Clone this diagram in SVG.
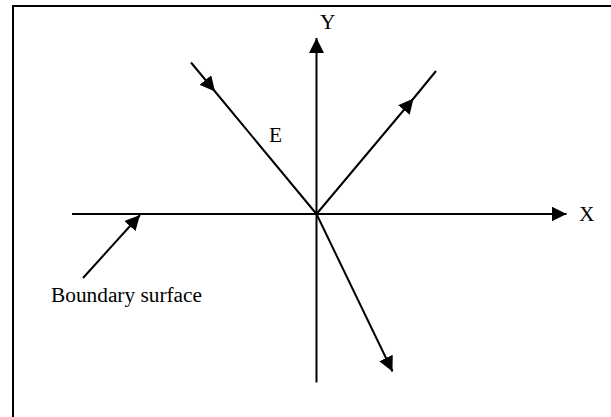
<svg xmlns="http://www.w3.org/2000/svg" width="611" height="417" viewBox="0 0 611 417">
  <style>
    .ln { stroke: #000; stroke-width: 2; fill: none; }
    text { font-family: 'Liberation Serif', 'Times New Roman', Times, serif; font-size: 21.33px; fill: #000; }
  </style>
  <defs>
    <marker id="ah" viewBox="0 0 15 15" refX="15" refY="7.5" markerWidth="15" markerHeight="15" markerUnits="userSpaceOnUse" orient="auto">
      <path d="M0,0 L15,7.5 L0,15 z" fill="#000"/>
    </marker>
  </defs>
  <rect x="13" y="6" width="620" height="430" fill="none" stroke="#000" stroke-width="2"/>
  <g id="connectors">
    <path id="x-axis" class="ln" d="M72,214 L566.5,214" marker-end="url(#ah)"/>
    <path id="y-axis" class="ln" d="M316.5,382.5 L316.5,38" marker-end="url(#ah)"/>
    <path id="incident" class="ln" d="M191,62.5 L215,91.5 L316.5,214" marker-mid="url(#ah)"/>
    <path id="reflected" class="ln" d="M316.5,214 L413.5,98.5 L436,71" marker-mid="url(#ah)"/>
    <path id="refracted" class="ln" d="M316.5,214 L392.5,371.5" marker-end="url(#ah)"/>
    <path id="boundary-pointer" class="ln" d="M83,278 L140,215" marker-end="url(#ah)"/>
  </g>
  <g id="label-y"><text x="320" y="29" font-family="Liberation Serif, serif">Y</text></g>
  <g id="label-x"><text x="579" y="221" font-family="Liberation Serif, serif">X</text></g>
  <g id="label-e"><text x="269" y="142" font-family="Liberation Serif, serif">E</text></g>
  <g id="label-boundary"><text x="51" y="301.5" font-family="Liberation Serif, serif">Boundary surface</text></g>
</svg>
